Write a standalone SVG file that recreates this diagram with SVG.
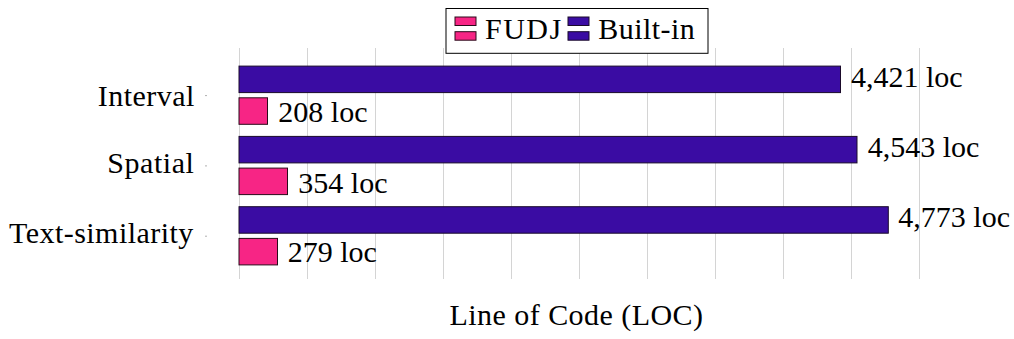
<svg xmlns="http://www.w3.org/2000/svg" width="1014" height="339" viewBox="0 0 1014 339">
  <style>
    .t { font-size: 30px; fill: #000; }
    .w { letter-spacing: 0.45px; }
    .grid { stroke: #d4d4d4; stroke-width: 1; }
    .tick { stroke: #b0b0b0; stroke-width: 1; }
    .fudj { fill: #f72585; stroke: #2a0a1a; stroke-width: 1; }
    .built { fill: #3a0ca3; stroke: #1a0a2a; stroke-width: 1; }
  </style>
  <rect width="1014" height="339" fill="#fff"/>
  <g id="grid">
    <line class="grid" x1="239.5" y1="48" x2="239.5" y2="279"/>
    <line class="grid" x1="307.5" y1="48" x2="307.5" y2="279"/>
    <line class="grid" x1="375.5" y1="48" x2="375.5" y2="279"/>
    <line class="grid" x1="443.5" y1="48" x2="443.5" y2="279"/>
    <line class="grid" x1="511.5" y1="48" x2="511.5" y2="279"/>
    <line class="grid" x1="579.5" y1="48" x2="579.5" y2="279"/>
    <line class="grid" x1="647.5" y1="48" x2="647.5" y2="279"/>
    <line class="grid" x1="715.5" y1="48" x2="715.5" y2="279"/>
    <line class="grid" x1="783.5" y1="48" x2="783.5" y2="279"/>
    <line class="grid" x1="851.5" y1="48" x2="851.5" y2="279"/>
    <line class="grid" x1="919.5" y1="48" x2="919.5" y2="279"/>
    <line class="tick" x1="205" y1="95.6" x2="207" y2="95.6"/>
    <line class="tick" x1="205" y1="165.9" x2="207" y2="165.9"/>
    <line class="tick" x1="205" y1="236.2" x2="207" y2="236.2"/>
  </g>
  <g font-family="Liberation Serif">
  <g id="legend">
    <rect x="446" y="8.5" width="262" height="44.8" fill="#fff" stroke="#000" stroke-width="1"/>
    <rect class="fudj" x="455" y="17" width="21" height="8.5"/>
    <rect class="fudj" x="455" y="31.7" width="21" height="8.5"/>
    <text class="t" x="485" y="39" letter-spacing="1.5">FUDJ</text>
    <rect class="built" x="568" y="17" width="21" height="8.5"/>
    <rect class="built" x="568" y="31.7" width="21" height="8.5"/>
    <text class="t w" x="598.3" y="39">Built-in</text>
  </g>
  <g id="interval">
    <text class="t w" x="194.7" y="105.7" text-anchor="end">Interval</text>
    <rect class="built" x="239" y="66.1" width="601.5" height="26.5"/>
    <text class="t" x="851" y="87.3">4,421 loc</text>
    <rect class="fudj" x="239" y="97.8" width="28.5" height="26.5"/>
    <text class="t" x="278.3" y="121.7">208 loc</text>
  </g>
  <g id="spatial">
    <text class="t" x="194.5" y="173.3" text-anchor="end" letter-spacing="0.55">Spatial</text>
    <rect class="built" x="239" y="136.4" width="618" height="26.5"/>
    <text class="t" x="867.7" y="157.3">4,543 loc</text>
    <rect class="fudj" x="239" y="168.1" width="48.5" height="26.5"/>
    <text class="t" x="298.3" y="192.7">354 loc</text>
  </g>
  <g id="text-similarity">
    <text class="t w" x="193.7" y="243.3" text-anchor="end">Text-similarity</text>
    <rect class="built" x="239" y="206.7" width="649.3" height="26.5"/>
    <text class="t" x="898.3" y="227.3">4,773 loc</text>
    <rect class="fudj" x="239" y="238.4" width="38.5" height="26.5"/>
    <text class="t" x="287.7" y="262.3">279 loc</text>
  </g>
  <g id="axis-label">
    <text class="t w" x="576.5" y="325" text-anchor="middle">Line of Code (LOC)</text>
  </g>
  </g>
  <g id="connectors"></g>
</svg>
